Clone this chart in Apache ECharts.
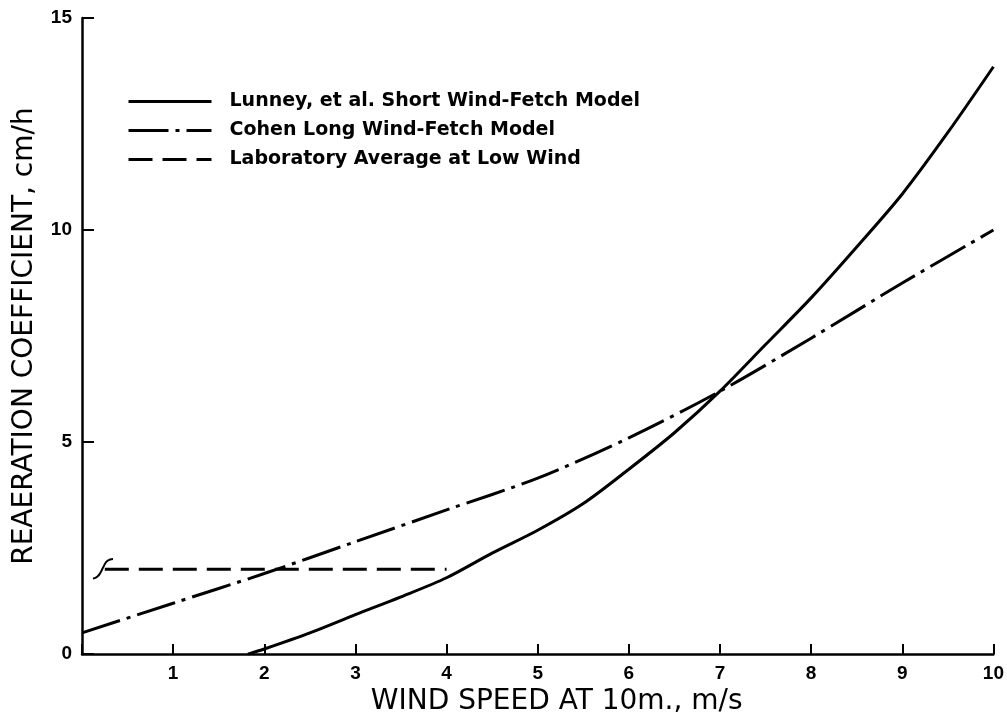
<!DOCTYPE html>
<html>
<head>
<meta charset="utf-8">
<script src="https://cdn.jsdelivr.net/npm/echarts@6/dist/echarts.min.js"></script>
<style>
html,body{margin:0;padding:0;background:#fff;}
#chart{width:1007px;height:721px;}
</style>
</head>
<body>
<div id="chart"></div>
<script>
// ---- data ----
const xTicks = [0,1,2,3,4,5,6,7,8,9,10];
const yTicks = [0,5,10,15];

const lunneyX = [1.82, 2, 2.5, 3, 3.5, 4, 4.5, 5, 5.5, 6, 6.5, 7, 7.5, 8, 8.5, 9, 9.5, 10];
const lunneyY = [0, 0.12, 0.5, 0.93, 1.35, 1.8, 2.38, 2.92, 3.55, 4.36, 5.22, 6.2, 7.3, 8.4, 9.6, 10.85, 12.3, 13.85];

const cohenX = [0, 1, 2, 3, 4, 5, 6, 7, 8, 9, 10];
const cohenY = [0.5, 1.2, 1.9, 2.65, 3.4, 4.15, 5.1, 6.2, 7.45, 8.75, 10.0];

const labX = [0.25, 4.0];
const labY = [2.0, 2.0];

// small hand-drawn "ʃ" mark at the start of the laboratory line
const hookX = [0.12, 0.17, 0.21, 0.24, 0.28, 0.34];
const hookY = [1.78, 1.83, 1.95, 2.08, 2.2, 2.24];

const names = ['Lunney, et al. Short Wind-Fetch Model', 'Cohen Long Wind-Fetch Model', 'Laboratory Average at Low Wind'];

function zip(xs, ys){ return xs.map((x,i)=>[x, ys[i]]); }

const chart = echarts.init(document.getElementById('chart'), null, {renderer:'canvas'});
const FONT = 'DejaVu Sans';
const TICKFONT = 'Liberation Sans';
const dashDot = [40, 7, 4, 7];
const dashed = [24, 10];

chart.setOption({
  animation: false,
  backgroundColor: '#fff',
  grid: {left: 82, right: 13, top: 18, bottom: 56, containLabel: false},
  legend: {
    orient: 'vertical',
    left: 122, top: 87,
    itemWidth: 83, itemHeight: 14, itemGap: 10,
    itemStyle: {opacity: 0},
    textStyle: {fontFamily: FONT, fontSize: 19, fontWeight: 'bold', color: '#000', padding: [0,0,0,13]},
    data: [
      {name: names[0], lineStyle: {color:'#000', width:3, type:'solid'}},
      {name: names[1], lineStyle: {color:'#000', width:3, type:dashDot}},
      {name: names[2], lineStyle: {color:'#000', width:3, type:dashed}}
    ]
  },
  xAxis: {
    type: 'value', min: 0, max: 10, interval: 1,
    name: 'WIND SPEED AT 10m., m/s',
    nameLocation: 'middle', nameGap: 29,
    nameTextStyle: {fontFamily: FONT, fontSize: 28, color: '#000', padding: [0,0,0,38]},
    axisLine: {show: true, onZero: false, lineStyle: {color:'#000', width: 2.5}},
    axisTick: {show: true, inside: true, length: 10, lineStyle: {color:'#000', width: 2}},
    axisLabel: {fontFamily: TICKFONT, fontSize: 19, fontWeight: 'bold', color:'#000', margin: 10,
      formatter: v => v === 0 ? '' : String(v)},
    splitLine: {show: false}
  },
  yAxis: {
    type: 'value', min: 0, max: 15, interval: 5,
    name: 'REAERATION COEFFICIENT, cm/h',
    nameLocation: 'middle', nameGap: 43, nameRotate: 90,
    nameTextStyle: {fontFamily: FONT, fontSize: 28, color: '#000'},
    axisLine: {show: true, onZero: false, lineStyle: {color:'#000', width: 2.5}},
    axisTick: {show: true, inside: true, length: 12, lineStyle: {color:'#000', width: 2}},
    axisLabel: {fontFamily: TICKFONT, fontSize: 19, fontWeight: 'bold', color:'#000', margin: 10},
    splitLine: {show: false}
  },
  series: [
    {name: names[0], type: 'line', data: zip(lunneyX, lunneyY), smooth: 0.3, symbol: 'none',
     lineStyle: {color:'#000', width: 3, type: 'solid'}, itemStyle:{color:'#000'}},
    {name: names[1], type: 'line', data: zip(cohenX, cohenY), smooth: 0.3, symbol: 'none',
     lineStyle: {color:'#000', width: 3, type: dashDot}, itemStyle:{color:'#000'}},
    {name: names[2], type: 'line', data: zip(labX, labY), symbol: 'none',
     lineStyle: {color:'#000', width: 3, type: dashed}, itemStyle:{color:'#000'}},
    {name: 'hook', type: 'line', data: zip(hookX, hookY), smooth: 0.5, symbol: 'none',
     lineStyle: {color:'#000', width: 2}, itemStyle:{color:'#000'}}
  ]
});
</script>
</body>
</html>
